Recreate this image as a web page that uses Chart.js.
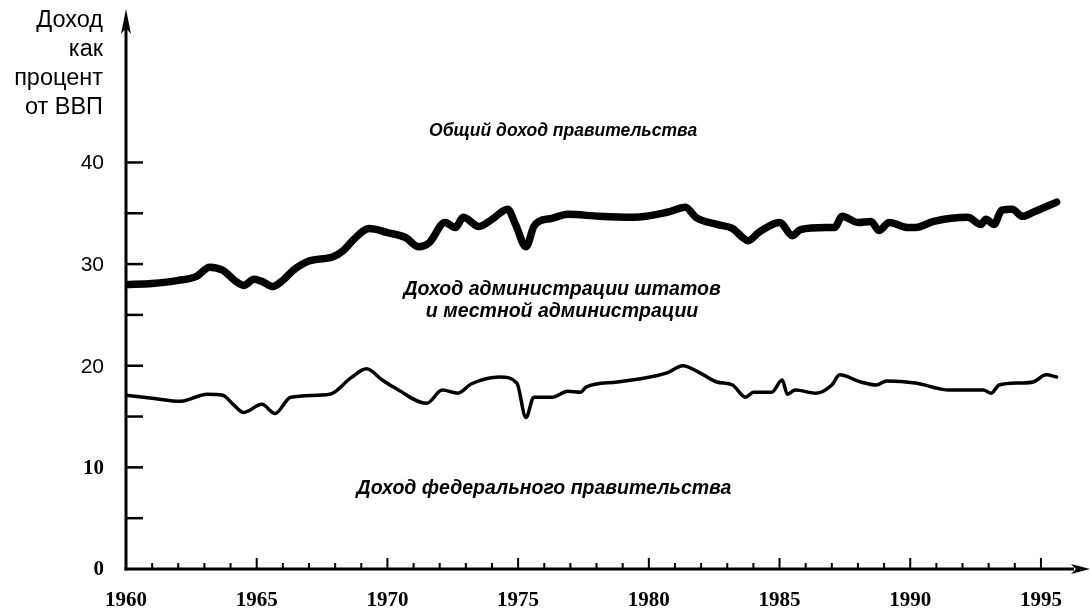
<!DOCTYPE html>
<html lang="ru">
<head>
    <meta charset="utf-8" />
    <title>Доход правительства как процент от ВВП</title>
    <script src="https://cdn.jsdelivr.net/npm/chart.js"></script>
    <style>
      html, body { margin: 0; padding: 0; background: #fff; }
      #wrap { position: relative; width: 1091px; height: 612px; }
    </style>
</head>
<body>
    <div id="wrap">
        <canvas id="revenueChart"></canvas>
    </div>

    <script>
        // --- Données ---
        // Общий доход правительства (% ВВП)
        const totalYears = [
            1960.0, 1961.0, 1962.0, 1962.7, 1963.2, 1963.7, 1964.2, 1964.5, 1964.9, 1965.2,
            1965.6, 1966.0, 1966.4, 1967.0, 1967.9, 1968.3, 1968.7, 1969.3, 1970.0, 1970.7,
            1971.2, 1971.6, 1972.2, 1972.6, 1972.9, 1973.5, 1974.0, 1974.6, 1974.9, 1975.3,
            1975.6, 1975.8, 1976.3, 1976.9, 1978.1, 1979.4, 1980.7, 1981.4, 1981.8, 1982.6,
            1983.2, 1983.6, 1983.8, 1984.2, 1985.0, 1985.5, 1985.8, 1986.8, 1987.1, 1987.4,
            1988.0, 1988.5, 1988.8, 1989.2, 1989.9, 1990.2, 1990.9, 1992.2, 1992.7, 1992.9,
            1993.2, 1993.5, 1993.9, 1994.3, 1994.7, 1995.6
        ];
        const totalValues = [
            28.0, 28.1, 28.4, 28.8, 29.7, 29.4, 28.3, 27.9, 28.5, 28.3,
            27.8, 28.4, 29.4, 30.3, 30.7, 31.3, 32.4, 33.5, 33.1, 32.6,
            31.7, 32.1, 34.1, 33.6, 34.6, 33.7, 34.4, 35.4, 33.9, 31.7,
            33.7, 34.2, 34.5, 34.9, 34.7, 34.6, 35.1, 35.6, 34.6, 33.9,
            33.5, 32.6, 32.3, 33.1, 34.1, 32.8, 33.4, 33.6, 33.6, 34.7,
            34.1, 34.2, 33.3, 34.1, 33.6, 33.6, 34.2, 34.6, 33.9, 34.4,
            33.9, 35.3, 35.4, 34.7, 35.1, 36.1
        ];

        // Доход федерального правительства (% ВВП)
        const federalYears = [
            1960.0, 1961.0, 1962.1, 1963.1, 1963.7, 1964.1, 1964.5, 1965.2, 1965.7, 1966.3,
            1967.8, 1968.6, 1969.2, 1969.8, 1970.3, 1971.5, 1972.1, 1972.7, 1973.2, 1974.3,
            1974.95, 1975.3, 1975.6, 1976.3, 1976.9, 1977.4, 1977.6, 1978.8, 1980.7, 1981.3,
            1981.95, 1982.6, 1983.2, 1983.7, 1984.0, 1984.7, 1985.1, 1985.3, 1985.6, 1986.4,
            1987.0, 1987.3, 1988.1, 1988.7, 1989.1, 1990.2, 1991.5, 1992.8, 1993.1, 1993.4,
            1994.2, 1994.7, 1995.2, 1995.6
        ];
        const federalValues = [
            17.1, 16.8, 16.5, 17.2, 17.1, 16.2, 15.4, 16.2, 15.3, 16.9,
            17.2, 18.8, 19.7, 18.6, 17.8, 16.3, 17.6, 17.3, 18.2, 18.9,
            18.3, 14.9, 16.9, 16.9, 17.5, 17.4, 17.9, 18.4, 19.3, 20.0,
            19.3, 18.4, 18.1, 16.9, 17.4, 17.4, 18.6, 17.2, 17.6, 17.3,
            18.1, 19.1, 18.4, 18.1, 18.5, 18.3, 17.6, 17.6, 17.3, 18.1,
            18.3, 18.4, 19.1, 18.9
        ];

        // Подписи осей
        const xTickYears = [1960, 1965, 1970, 1975, 1980, 1985, 1990, 1995];
        const yTickValues = [0, 10, 20, 30, 40];
        const yTitleLines = ["Доход", "как", "процент", "от ВВП"];

        // Надписи внутри графика
        const noteTotal = "Общий доход правительства";
        const noteState = ["Доход администрации штатов", "и местной администрации"];
        const noteFederal = "Доход федерального правительства";

        const toPoints = (xs, ys) => xs.map((x, i) => ({ x: x, y: ys[i] }));

        // --- Plugin : axes avec flèches, graduations et textes ---
        const axesPlugin = {
            id: "axesPlugin",
            afterDraw(chart) {
                const ctx = chart.ctx;
                const xs = chart.scales.x;
                const ys = chart.scales.y;
                const x0 = xs.getPixelForValue(1960);
                const y0 = ys.getPixelForValue(0);

                ctx.save();
                ctx.strokeStyle = "#000";
                ctx.fillStyle = "#000";
                ctx.lineCap = "butt";

                // axe vertical + flèche
                ctx.lineWidth = 3;
                ctx.beginPath();
                ctx.moveTo(x0, y0 + 1.5);
                ctx.lineTo(x0, ys.top + 18);
                ctx.stroke();
                ctx.beginPath();
                ctx.moveTo(x0, ys.top - 1);
                ctx.lineTo(x0 + 5, ys.top + 24);
                ctx.lineTo(x0, ys.top + 18);
                ctx.lineTo(x0 - 5, ys.top + 24);
                ctx.closePath();
                ctx.fill();

                // axe horizontal + flèche
                ctx.beginPath();
                ctx.moveTo(x0 - 1.5, y0);
                ctx.lineTo(xs.right - 14, y0);
                ctx.stroke();
                ctx.beginPath();
                ctx.moveTo(xs.right + 2, y0);
                ctx.lineTo(xs.right - 17, y0 - 5);
                ctx.lineTo(xs.right - 12, y0);
                ctx.lineTo(xs.right - 17, y0 + 5);
                ctx.closePath();
                ctx.fill();

                // graduations Y (vers l'intérieur)
                ctx.lineWidth = 2.5;
                for (let v = 5; v <= 40; v += 5) {
                    const py = ys.getPixelForValue(v);
                    ctx.beginPath();
                    ctx.moveTo(x0, py);
                    ctx.lineTo(x0 + 17, py);
                    ctx.stroke();
                }

                // graduations X (chaque année, plus longues tous les 5 ans)
                ctx.lineWidth = 2;
                for (let yr = 1961; yr <= 1995; yr++) {
                    const px = xs.getPixelForValue(yr);
                    const len = yr % 5 === 0 ? 11 : 6;
                    ctx.beginPath();
                    ctx.moveTo(px, y0);
                    ctx.lineTo(px, y0 - len);
                    ctx.stroke();
                }

                // libellés Y
                ctx.textAlign = "right";
                ctx.textBaseline = "middle";
                yTickValues.forEach(v => {
                    ctx.font = v >= 20
                        ? '21px "Liberation Sans", Arial, sans-serif'
                        : 'bold 21px "Liberation Serif", "Times New Roman", serif';
                    ctx.fillText(String(v), 104, ys.getPixelForValue(v) + 1);
                });

                // titre de l'axe Y
                ctx.font = '23.5px "Liberation Sans", Arial, sans-serif';
                yTitleLines.forEach((line, i) => {
                    ctx.fillText(line, 103, 21 + i * 29);
                });

                // libellés X
                ctx.textAlign = "center";
                ctx.font = 'bold 21px "Liberation Serif", "Times New Roman", serif';
                xTickYears.forEach(yr => {
                    ctx.fillText(String(yr), xs.getPixelForValue(yr), 601);
                });

                // textes dans le graphique
                ctx.font = 'italic bold 17.5px "Liberation Sans", Arial, sans-serif';
                ctx.fillText(noteTotal, xs.getPixelForValue(1976.72), ys.getPixelForValue(43.05));
                ctx.font = 'italic bold 19.5px "Liberation Sans", Arial, sans-serif';
                ctx.fillText(noteState[0], xs.getPixelForValue(1976.68), ys.getPixelForValue(27.49));
                ctx.fillText(noteState[1], xs.getPixelForValue(1976.68), ys.getPixelForValue(25.32));
                ctx.fillText(noteFederal, xs.getPixelForValue(1975.99), ys.getPixelForValue(7.88));

                ctx.restore();
            }
        };

        // --- Création du graphique ---
        const ctx = document.getElementById("revenueChart").getContext("2d");
        const revenueChart = new Chart(ctx, {
            type: "line",
            data: {
                datasets: [
                    {
                        label: noteTotal,
                        data: toPoints(totalYears, totalValues),
                        borderColor: "#000",
                        borderWidth: 7.5,
                        cubicInterpolationMode: "monotone",
                        borderJoinStyle: "round",
                        borderCapStyle: "round",
                        pointRadius: 0,
                        fill: false
                    },
                    {
                        label: noteFederal,
                        data: toPoints(federalYears, federalValues),
                        borderColor: "#000",
                        borderWidth: 3.5,
                        cubicInterpolationMode: "monotone",
                        borderJoinStyle: "round",
                        borderCapStyle: "round",
                        pointRadius: 0,
                        fill: false
                    }
                ]
            },
            options: {
                responsive: true,
                maintainAspectRatio: false,
                animation: false,
                layout: {
                    padding: { left: 126, right: 3, top: 10, bottom: 43 }
                },
                scales: {
                    x: { type: "linear", min: 1960, max: 1996.8, display: false },
                    y: { min: 0, max: 55, display: false }
                },
                plugins: {
                    legend: { display: false },
                    tooltip: { enabled: false }
                }
            },
            plugins: [axesPlugin]
        });
    </script>
</body>
</html>
